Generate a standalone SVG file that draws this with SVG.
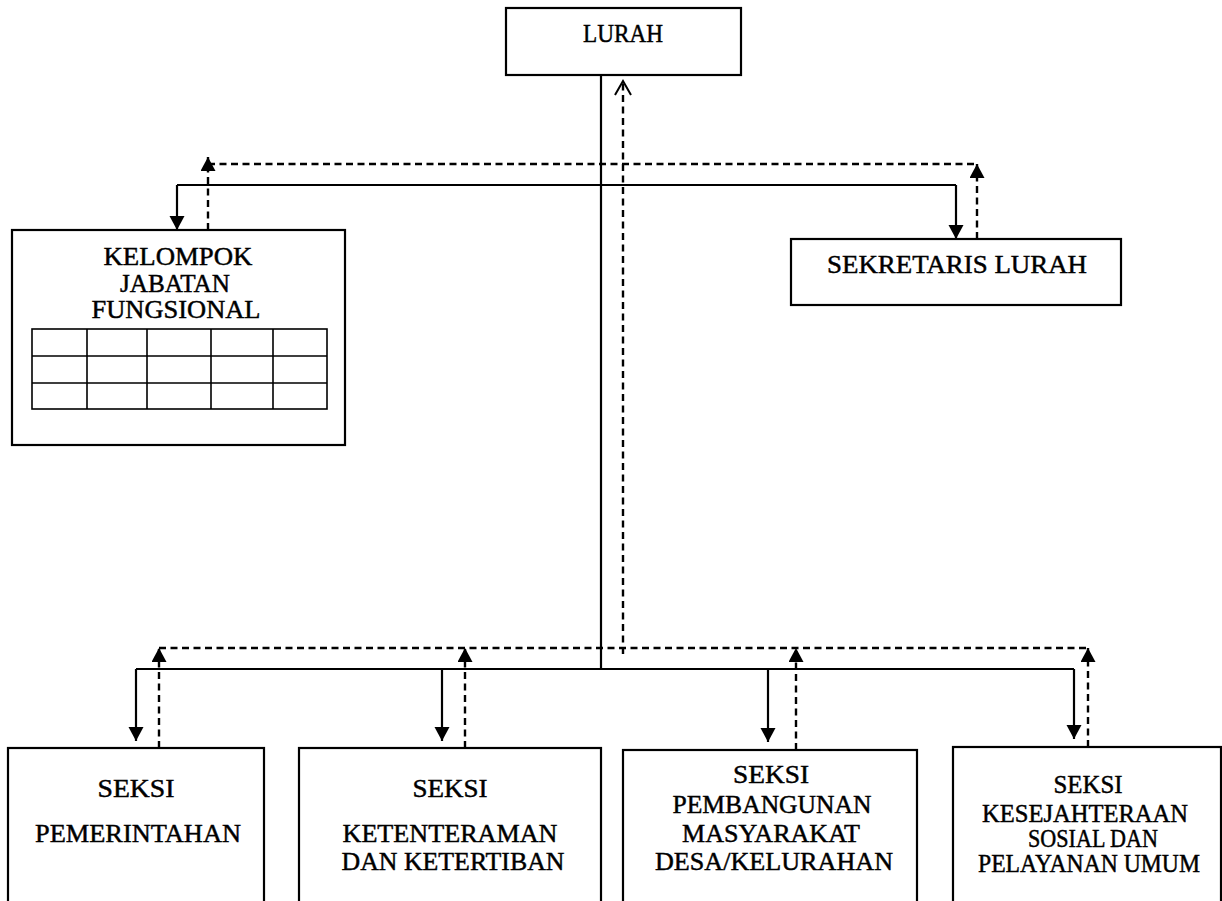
<svg xmlns="http://www.w3.org/2000/svg" width="1222" height="901" viewBox="0 0 1222 901">
<style>
.box{fill:#fff;stroke:#000;stroke-width:2.2}
.grid{fill:none;stroke:#000;stroke-width:1.6}
.t{font-family:"Liberation Serif","Times New Roman",serif;font-size:25px;fill:#000;stroke:#000;stroke-width:0.45;text-anchor:middle}
.s{fill:none;stroke:#000;stroke-width:2.2}
.d{fill:none;stroke:#000;stroke-width:2.4;stroke-dasharray:7 4.5}
</style>
<defs>
<marker id="ah" markerUnits="userSpaceOnUse" markerWidth="16" markerHeight="16" refX="14" refY="7.5" orient="auto" viewBox="0 0 16 16">
<path d="M0,0 L14,7.5 L0,15 z" fill="#000"/>
</marker>
<marker id="oh" markerUnits="userSpaceOnUse" markerWidth="18" markerHeight="20" refX="15" refY="9" orient="auto" viewBox="0 0 18 20">
<path d="M1,1 L15,9 L1,17" fill="none" stroke="#000" stroke-width="2"/>
</marker>
</defs>
<rect width="1222" height="901" fill="#fff"/>

<g id="connectors">
<path class="s" d="M601,75 V669"/>
<path class="s" d="M177,185 H956"/>
<path class="s" d="M177,185 V230" marker-end="url(#ah)"/>
<path class="s" d="M956,185 V239" marker-end="url(#ah)"/>
<path class="s" d="M136,669 H1074"/>
<path class="s" d="M136,669 V741" marker-end="url(#ah)"/>
<path class="s" d="M442,669 V741" marker-end="url(#ah)"/>
<path class="s" d="M768,669 V742" marker-end="url(#ah)"/>
<path class="s" d="M1074,669 V739" marker-end="url(#ah)"/>
<path class="d" d="M623,654 V81" marker-end="url(#oh)"/>
<path class="d" d="M208,164 H977"/>
<path class="d" d="M208,230 V157" marker-end="url(#ah)"/>
<path class="d" d="M977,239 V164" marker-end="url(#ah)"/>
<path class="d" d="M159,648 H1088"/>
<path class="d" d="M159,748 V648" marker-end="url(#ah)"/>
<path class="d" d="M465,748 V648" marker-end="url(#ah)"/>
<path class="d" d="M796,750 V648" marker-end="url(#ah)"/>
<path class="d" d="M1088,747 V648" marker-end="url(#ah)"/>
</g>

<g id="lurah">
<rect class="box" x="506" y="8" width="235" height="67"/>
<text class="t" x="623" y="42" font-size="23" textLength="80" lengthAdjust="spacingAndGlyphs">LURAH</text>
</g>

<g id="kelompok">
<rect class="box" x="12" y="230" width="333" height="215"/>
<text class="t" x="178" y="265" font-size="23" textLength="149" lengthAdjust="spacingAndGlyphs">KELOMPOK</text>
<text class="t" x="175" y="292" font-size="23" textLength="110" lengthAdjust="spacingAndGlyphs">JABATAN</text>
<text class="t" x="176" y="318" font-size="23" textLength="169" lengthAdjust="spacingAndGlyphs">FUNGSIONAL</text>
<rect class="grid" x="32" y="329" width="295" height="80"/>
<path class="grid" d="M32,356 H327 M32,383 H327 M87,329 V409 M147,329 V409 M211,329 V409 M273,329 V409"/>
</g>

<g id="sekretaris">
<rect class="box" x="791" y="239" width="330" height="66"/>
<text class="t" x="957" y="273" textLength="260" lengthAdjust="spacingAndGlyphs">SEKRETARIS LURAH</text>
</g>

<g id="seksi-pemerintahan">
<rect class="box" x="8" y="748" width="256" height="165"/>
<text class="t" x="136" y="797" textLength="77" lengthAdjust="spacingAndGlyphs">SEKSI</text>
<text class="t" x="138" y="842" textLength="206" lengthAdjust="spacingAndGlyphs">PEMERINTAHAN</text>
</g>

<g id="seksi-ketenteraman">
<rect class="box" x="299" y="748" width="302" height="165"/>
<text class="t" x="450" y="797" textLength="75" lengthAdjust="spacingAndGlyphs">SEKSI</text>
<text class="t" x="450" y="842" textLength="215" lengthAdjust="spacingAndGlyphs">KETENTERAMAN</text>
<text class="t" x="453" y="870" textLength="223" lengthAdjust="spacingAndGlyphs">DAN KETERTIBAN</text>
</g>

<g id="seksi-pembangunan">
<rect class="box" x="623" y="750" width="294" height="165"/>
<text class="t" x="771" y="783" textLength="76" lengthAdjust="spacingAndGlyphs">SEKSI</text>
<text class="t" x="772" y="813" textLength="199" lengthAdjust="spacingAndGlyphs">PEMBANGUNAN</text>
<text class="t" x="771" y="842" textLength="178" lengthAdjust="spacingAndGlyphs">MASYARAKAT</text>
<text class="t" x="774" y="870" textLength="238" lengthAdjust="spacingAndGlyphs">DESA/KELURAHAN</text>
</g>

<g id="seksi-kesejahteraan">
<rect class="box" x="953" y="747" width="268" height="165"/>
<text class="t" x="1088" y="793" font-size="21" textLength="69" lengthAdjust="spacingAndGlyphs">SEKSI</text>
<text class="t" x="1085" y="822" font-size="21" textLength="206" lengthAdjust="spacingAndGlyphs">KESEJAHTERAAN</text>
<text class="t" x="1093" y="847" font-size="21" textLength="130" lengthAdjust="spacingAndGlyphs">SOSIAL DAN</text>
<text class="t" x="1089" y="872" font-size="21" textLength="222" lengthAdjust="spacingAndGlyphs">PELAYANAN UMUM</text>
</g>
</svg>
